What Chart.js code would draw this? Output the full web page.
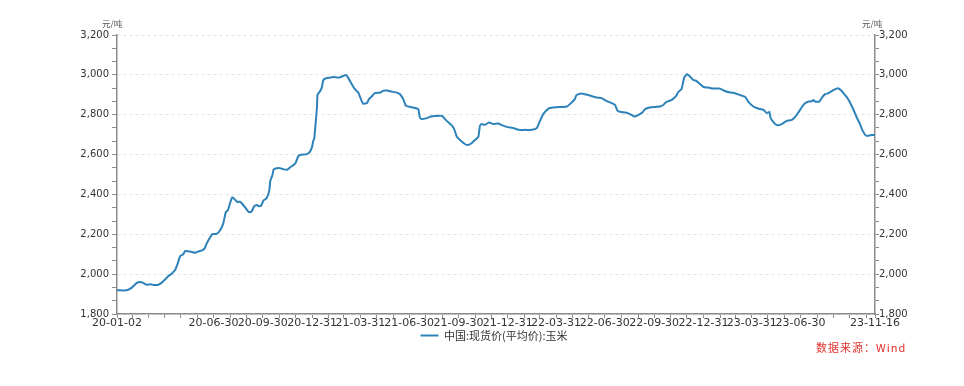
<!DOCTYPE html>
<html lang="zh-CN">
<head>
<meta charset="utf-8">
<title>中国:现货价(平均价):玉米</title>
<script src="https://cdn.jsdelivr.net/npm/chart.js@4.4.1/dist/chart.umd.min.js"></script>
<style>
  html, body { margin: 0; padding: 0; background: #fff; }
  .wrap { position: relative; width: 964px; height: 386px; }
  .unit { position: absolute; top: 19px; font: 8.5px "Noto Sans CJK SC", sans-serif; line-height: 1; color: #555; }
  .unit-left { left: 102px; }
  .unit-right { left: 862px; }
  .source { position: absolute; left: 816px; top: 342px; font: 11px "Noto Sans CJK SC", sans-serif; letter-spacing: 1px; line-height: 1; color: #e2312d; }
</style>
</head>
<body>
<div class="wrap">
  <canvas id="cornPriceChart" width="964" height="386"></canvas>
  <div class="unit unit-left">元/吨</div>
  <div class="unit unit-right">元/吨</div>
  <div class="source">数据来源：Wind</div>
</div>
<script>
// Series name and start date of the series (day 0)
const seriesName = "中国:现货价(平均价):玉米";
const startDate = "2020-01-02";

// Days since 2020-01-02 for each reading
const dayOffsets = [
  0, 18, 27, 37, 43, 49, 55, 63, 68, 77, 83, 90, 96, 102, 108, 113, 118, 124, 127, 136,
  146, 152, 159, 164, 167, 174, 178, 186, 192, 198, 203, 207, 211, 215, 220, 225, 229, 234, 240, 246,
  251, 256, 261, 265, 269, 273, 279, 284, 286, 290, 292, 298, 304, 310, 317, 323, 329, 333, 338, 343,
  354, 360, 364, 366, 368, 370, 373, 374, 379, 382, 385, 390, 397, 404, 413, 419, 427, 431, 438, 443,
  450, 455, 459, 466, 470, 475, 481, 491, 497, 504, 512, 522, 528, 534, 539, 547, 556, 562, 565, 568,
  578, 585, 593, 606, 615, 624, 629, 634, 640, 649, 655, 662, 666, 674, 677, 680, 686, 694, 702, 711,
  718, 727, 739, 749, 761, 774, 783, 789, 795, 805, 814, 826, 839, 848, 854, 857, 866, 873, 885, 895,
  904, 913, 923, 929, 934, 940, 949, 957, 965, 972, 980, 985, 994, 1004, 1013, 1019, 1025, 1035, 1043, 1047,
  1053, 1058, 1063, 1068, 1075, 1081, 1088, 1094, 1103, 1112, 1125, 1134, 1144, 1153, 1162, 1172, 1178, 1187, 1196, 1206,
  1212, 1217, 1219, 1224, 1231, 1237, 1243, 1249, 1259, 1265, 1271, 1277, 1283, 1290, 1295, 1299, 1302, 1310, 1315, 1321,
  1327, 1336, 1345, 1352, 1358, 1364, 1372, 1380, 1386, 1391, 1398, 1408, 1414
];

// Average spot price of corn, yuan per tonne
const prices = [
  1919, 1919, 1931, 1956, 1961, 1956, 1947, 1949, 1946, 1947, 1956, 1974, 1991, 2002, 2019, 2052, 2091, 2101, 2116, 2114,
  2107, 2114, 2119, 2132, 2152, 2186, 2201, 2202, 2219, 2252, 2311, 2322, 2357, 2386, 2374, 2361, 2364, 2352, 2331, 2311,
  2314, 2341, 2347, 2341, 2344, 2369, 2381, 2419, 2469, 2497, 2524, 2531, 2532, 2527, 2524, 2536, 2547, 2557, 2591, 2599,
  2602, 2615, 2640, 2668, 2680, 2740, 2836, 2899, 2919, 2936, 2974, 2983, 2986, 2989, 2986, 2991, 2999, 2986, 2953, 2931,
  2911, 2878, 2856, 2858, 2878, 2891, 2908, 2911, 2921, 2921, 2916, 2911, 2903, 2878, 2844, 2839, 2834, 2828, 2786, 2778,
  2783, 2791, 2794, 2794, 2769, 2748, 2728, 2689, 2673, 2653, 2648, 2658, 2669, 2689, 2744, 2753, 2749, 2761, 2753, 2756,
  2748, 2739, 2733, 2724, 2724, 2724, 2733, 2769, 2803, 2831, 2836, 2839, 2841, 2861, 2878, 2898, 2906, 2903, 2894, 2886,
  2883, 2869, 2858, 2849, 2819, 2814, 2811, 2803, 2791, 2798, 2811, 2828, 2836, 2839, 2841, 2849, 2864, 2874, 2894, 2914,
  2928, 2986, 3003, 2994, 2974, 2969, 2953, 2939, 2936, 2931, 2931, 2919, 2911, 2908, 2899, 2889, 2864, 2841, 2831, 2824,
  2808, 2814, 2786, 2764, 2748, 2749, 2758, 2769, 2774, 2789, 2811, 2836, 2856, 2866, 2866, 2874, 2866, 2866, 2886, 2903,
  2908, 2923, 2933, 2919, 2899, 2878, 2836, 2786, 2753, 2719, 2694, 2698, 2699
];

// Labelled dates on the x axis
const xTickLabels = [
  "20-01-02", "20-06-30", "20-09-30", "20-12-31", "21-03-31", "21-06-30", "21-09-30",
  "21-12-31", "22-03-31", "22-06-30", "22-09-30", "22-12-31", "23-03-31", "23-06-30", "23-11-16"
];

// Value axis range and labelled step
const yMin = 1800;
const yMax = 3200;
const yLabelStep = 200;
const yMinorPerStep = 3;

const LINE_COLOR = "#2d82ba";
const AXIS_COLOR = "#8c8c8c";
const TEXT_COLOR = "#333";

function dayOf(y, m, d) {
  const [sy, sm, sd] = startDate.split("-").map(Number);
  return Math.round((Date.UTC(y, m - 1, d) - Date.UTC(sy, sm - 1, sd)) / 86400000);
}

const lastDay = dayOffsets[dayOffsets.length - 1];

// Labelled x ticks, keyed by day offset
const xLabelByDay = new Map();
xTickLabels.forEach((label) => {
  const [yy, mm, dd] = label.split("-").map(Number);
  xLabelByDay.set(dayOf(2000 + yy, mm, dd), label);
});

// Tick marks at every month end, plus the first and last day
const xTickDays = [0];
for (let y = 2020; y <= 2023; y++) {
  for (let m = 1; m <= 12; m++) {
    const monthEnd = new Date(Date.UTC(y, m, 0));
    const day = dayOf(y, m, monthEnd.getUTCDate());
    if (day > 0 && day < lastDay) xTickDays.push(day);
  }
}
xTickDays.push(lastDay);

// Value ticks: labelled every 200, unlabelled marks in between
const yTickValues = [];
const yTickCount = ((yMax - yMin) / yLabelStep) * yMinorPerStep;
for (let k = 0; k <= yTickCount; k++) {
  yTickValues.push(yMin + (k * yLabelStep) / yMinorPerStep);
}

function isLabelled(v) {
  const r = (v - yMin) / yLabelStep;
  return Math.abs(r - Math.round(r)) < 1e-6;
}

function valueAxis(position) {
  const left = position === "left";
  return {
    type: "linear",
    position: position,
    min: yMin,
    max: yMax,
    afterBuildTicks: (scale) => {
      scale.ticks = yTickValues.map((v) => ({ value: v }));
    },
    afterFit: (scale) => {
      scale.width = left ? 93 : 89;
    },
    grid: {
      drawOnChartArea: left,
      color: (ctx) =>
        ctx.tick && isLabelled(ctx.tick.value) ? "#e4e4e4" : "rgba(0,0,0,0)",
      lineWidth: 1,
      tickLength: left ? 5 : 4,
      tickColor: AXIS_COLOR,
      tickWidth: 1,
    },
    border: {
      display: true,
      color: AXIS_COLOR,
      width: 1.5,
      dash: [3, 3],
    },
    ticks: {
      autoSkip: false,
      padding: left ? 3 : 0,
      color: TEXT_COLOR,
      font: { family: "DejaVu Sans", size: 10 },
      callback: (v) => (isLabelled(v) ? Math.round(v).toLocaleString("en-US") : ""),
    },
  };
}

document.addEventListener("DOMContentLoaded", function () {
  const ctx = document.getElementById("cornPriceChart");

  new Chart(ctx, {
    type: "line",
    data: {
      datasets: [
        {
          label: seriesName,
          data: dayOffsets.map((d, i) => ({ x: d, y: prices[i] })),
          borderColor: LINE_COLOR,
          backgroundColor: LINE_COLOR,
          borderWidth: 2,
          pointRadius: 0,
          tension: 0.15,
          fill: false,
          yAxisID: "yLeft",
        },
      ],
    },
    options: {
      responsive: false,
      animation: false,
      devicePixelRatio: 1,
      layout: {
        padding: { left: 24, right: 0, top: 35, bottom: 35 },
      },
      plugins: {
        tooltip: { enabled: false },
        legend: {
          display: true,
          position: "bottom",
          labels: {
            usePointStyle: true,
            pointStyle: "line",
            pointStyleWidth: 18,
            padding: 0,
            color: TEXT_COLOR,
            font: { family: "Noto Sans CJK SC", size: 11 },
          },
        },
      },
      scales: {
        x: {
          type: "linear",
          position: "bottom",
          min: 0,
          max: lastDay,
          afterBuildTicks: (scale) => {
            scale.ticks = xTickDays.map((v) => ({ value: v }));
          },
          afterFit: (scale) => {
            scale.height = 16;
          },
          grid: {
            drawOnChartArea: false,
            drawTicks: true,
            tickLength: 4,
            tickColor: AXIS_COLOR,
          },
          border: { display: true, color: AXIS_COLOR, width: 1.5 },
          ticks: {
            autoSkip: false,
            maxRotation: 0,
            minRotation: 0,
            padding: -1,
            color: TEXT_COLOR,
            font: { family: "DejaVu Sans", size: 11 },
            callback: (v) => xLabelByDay.get(v) || "",
          },
        },
        yLeft: valueAxis("left"),
        yRight: valueAxis("right"),
      },
    },
  });
});
</script>
</body>
</html>
